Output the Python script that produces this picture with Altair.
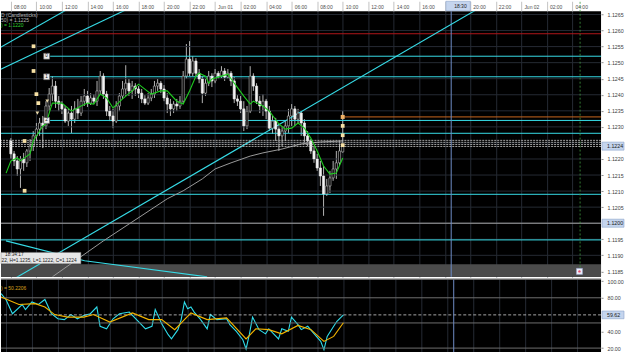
import altair as alt
import pandas as pd

FONT = "Liberation Sans"
CYAN = "#36dbe6"

# ---------------- data (15-minute bars, bar 0 = 2016-05-31 08:00) ----------------
bar_start = "2016-05-31 08:00"
bar_minutes = 15

opens = [1.12256, 1.12216, 1.12194, 1.12169, 1.12200, 1.12188, 1.12225, 1.12240, 1.12272, 1.12293,
         1.12312, 1.12303, 1.12365, 1.12402, 1.12427, 1.12380, 1.12371, 1.12356, 1.12318, 1.12343,
         1.12324, 1.12356, 1.12343, 1.12380, 1.12396, 1.12374, 1.12390, 1.12380, 1.12412, 1.12458,
         1.12402, 1.12349, 1.12334, 1.12318, 1.12365, 1.12396, 1.12418, 1.12436, 1.12412, 1.12427,
         1.12418, 1.12405, 1.12387, 1.12374, 1.12390, 1.12402, 1.12427, 1.12436, 1.12418, 1.12390,
         1.12371, 1.12356, 1.12371, 1.12365, 1.12380, 1.12458, 1.12511, 1.12467, 1.12505, 1.12467,
         1.12449, 1.12405, 1.12436, 1.12458, 1.12443, 1.12467, 1.12458, 1.12474, 1.12455, 1.12467,
         1.12443, 1.12387, 1.12380, 1.12356, 1.12303, 1.12349, 1.12458, 1.12427, 1.12380, 1.12365,
         1.12380, 1.12349, 1.12296, 1.12318, 1.12293, 1.12272, 1.12287, 1.12303, 1.12334, 1.12356,
         1.12324, 1.12343, 1.12312, 1.12272, 1.12256, 1.12225, 1.12200, 1.12172, 1.12147, 1.12091,
         1.12116, 1.12141, 1.12169, 1.12188, 1.12222]
highs = [1.12265, 1.12225, 1.12209, 1.12209, 1.12219, 1.12231, 1.12262, 1.12287, 1.12312, 1.12328,
         1.12334, 1.12380, 1.12421, 1.12458, 1.12443, 1.12396, 1.12380, 1.12365, 1.12356, 1.12365,
         1.12380, 1.12387, 1.12396, 1.12418, 1.12412, 1.12405, 1.12402, 1.12443, 1.12474, 1.12467,
         1.12412, 1.12365, 1.12356, 1.12380, 1.12405, 1.12443, 1.12492, 1.12449, 1.12443, 1.12436,
         1.12427, 1.12418, 1.12399, 1.12405, 1.12418, 1.12443, 1.12449, 1.12443, 1.12430, 1.12405,
         1.12387, 1.12380, 1.12387, 1.12396, 1.12474, 1.12558, 1.12567, 1.12520, 1.12514, 1.12480,
         1.12458, 1.12449, 1.12474, 1.12467, 1.12480, 1.12474, 1.12489, 1.12483, 1.12480, 1.12474,
         1.12455, 1.12399, 1.12396, 1.12380, 1.12365, 1.12489, 1.12467, 1.12436, 1.12396, 1.12402,
         1.12387, 1.12365, 1.12334, 1.12328, 1.12309, 1.12303, 1.12318, 1.12356, 1.12371, 1.12365,
         1.12356, 1.12349, 1.12324, 1.12287, 1.12262, 1.12240, 1.12216, 1.12194, 1.12178, 1.12138,
         1.12163, 1.12194, 1.12225, 1.12256, 1.12350]
lows = [1.12200, 1.12178, 1.12147, 1.12110, 1.12163, 1.12175, 1.12194, 1.12225, 1.12256, 1.12272,
        1.12234, 1.12293, 1.12349, 1.12380, 1.12359, 1.12349, 1.12340, 1.12312, 1.12303, 1.12281,
        1.12312, 1.12324, 1.12334, 1.12365, 1.12362, 1.12368, 1.12371, 1.12365, 1.12402, 1.12387,
        1.12334, 1.12318, 1.12296, 1.12312, 1.12349, 1.12387, 1.12396, 1.12396, 1.12387, 1.12396,
        1.12390, 1.12374, 1.12368, 1.12368, 1.12380, 1.12390, 1.12412, 1.12405, 1.12380, 1.12343,
        1.12334, 1.12343, 1.12349, 1.12356, 1.12371, 1.12449, 1.12458, 1.12458, 1.12458, 1.12436,
        1.12374, 1.12396, 1.12427, 1.12424, 1.12436, 1.12449, 1.12452, 1.12443, 1.12449, 1.12427,
        1.12374, 1.12365, 1.12343, 1.12287, 1.12293, 1.12343, 1.12412, 1.12371, 1.12343, 1.12334,
        1.12324, 1.12287, 1.12278, 1.12256, 1.12225, 1.12240, 1.12256, 1.12281, 1.12303, 1.12303,
        1.12312, 1.12272, 1.12247, 1.12240, 1.12216, 1.12188, 1.12163, 1.12116, 1.12023, 1.12085,
        1.12094, 1.12132, 1.12138, 1.12178, 1.12220]
closes = [1.12216, 1.12194, 1.12169, 1.12200, 1.12188, 1.12225, 1.12240, 1.12272, 1.12293, 1.12312,
          1.12303, 1.12365, 1.12402, 1.12427, 1.12380, 1.12371, 1.12356, 1.12318, 1.12343, 1.12324,
          1.12356, 1.12343, 1.12380, 1.12396, 1.12374, 1.12390, 1.12380, 1.12412, 1.12458, 1.12402,
          1.12349, 1.12334, 1.12318, 1.12365, 1.12396, 1.12418, 1.12436, 1.12412, 1.12427, 1.12418,
          1.12405, 1.12387, 1.12374, 1.12390, 1.12402, 1.12427, 1.12436, 1.12418, 1.12390, 1.12371,
          1.12356, 1.12371, 1.12365, 1.12380, 1.12458, 1.12511, 1.12467, 1.12505, 1.12467, 1.12449,
          1.12405, 1.12436, 1.12458, 1.12443, 1.12467, 1.12458, 1.12474, 1.12455, 1.12467, 1.12443,
          1.12387, 1.12380, 1.12356, 1.12303, 1.12349, 1.12458, 1.12427, 1.12380, 1.12365, 1.12380,
          1.12349, 1.12296, 1.12318, 1.12293, 1.12272, 1.12287, 1.12303, 1.12334, 1.12356, 1.12324,
          1.12343, 1.12312, 1.12272, 1.12256, 1.12225, 1.12200, 1.12172, 1.12147, 1.12091, 1.12116,
          1.12141, 1.12169, 1.12188, 1.12225, 1.12240]

# fast moving average (green), read at bar positions
ma_idx = [-1.5, 0, 2, 3, 5, 6, 7, 9, 10, 11, 12, 13, 16, 19, 22, 24, 26, 28, 30, 32, 35,
          38, 40, 44, 47, 49, 52, 54, 56, 58, 59, 61, 62, 63, 66, 68, 70, 73, 75, 76, 79,
          81, 84, 86, 88, 90, 92, 94, 96, 98, 100, 102, 104]
ma_val = [1.12156, 1.12194, 1.12203, 1.12194, 1.12209, 1.12216, 1.12256, 1.12287, 1.12303, 1.12309,
          1.12343, 1.12374, 1.12374, 1.12349, 1.12365, 1.12374, 1.12371, 1.12402, 1.12390, 1.12359,
          1.12387, 1.12412, 1.12433, 1.12402, 1.12412, 1.12412, 1.12380, 1.12371, 1.12412, 1.12458,
          1.12467, 1.12458, 1.12436, 1.12449, 1.12458, 1.12464, 1.12436, 1.12396, 1.12371, 1.12380,
          1.12365, 1.12349, 1.12309, 1.12293, 1.12296, 1.12312, 1.12296, 1.12265, 1.12225, 1.12178,
          1.12153, 1.12156, 1.12203]
# slow moving average (gray)
slow_idx = [13, 29, 49, 54, 60, 64, 69, 75, 79, 85, 91, 97, 104]
slow_val = [1.11833, 1.11945, 1.12076, 1.12101, 1.12138, 1.12169, 1.12188, 1.12209, 1.12219,
            1.12231, 1.12247, 1.12253, 1.12256]

# trend lines (two points each, D has three)
trend_id = ["A", "A", "B", "B", "C", "C", "D", "D", "D"]
trend_idx = [-4.6, 20, -4.6, 38.5, -1.54, 149.2, -1.54, 23.1, 61.5]
trend_price = [1.12540, 1.12679, 1.12473, 1.12676, 1.11812, 1.12684, 1.11945, 1.11883, 1.11833]

# horizontal levels
red_level = 1.12590
cyan_levels = [1.12280, 1.12090, 1.11948]
fib_levels = [1.12520, 1.12456, 1.12320]
fib_labels = ["0", "1", "2"]
fib_start_idx = 12.3
fib_label_idx = 11.2
dashed_levels = [1.12258, 1.12252, 1.12245, 1.12239]
gray_level = 1.12000
orange_level = 1.12331
orange_start_idx = 104.5
band_top, band_bottom = 1.11872, 1.11800

# small chart objects
sq_idx = [7.1, 7.1, 8.0, 8.6, 4.3, 4.3, 104, 104, 104]
sq_price = [1.12551, 1.12474, 1.12402, 1.12374, 1.12256, 1.12101, 1.12303, 1.12274, 1.12243]
orange_sq_idx, orange_sq_price = [104], [1.12331]
tri_idx = [8.3, 11.4]
tri_price = [1.12343, 1.12380]
icon_idx, icon_price = [178.2], [1.11850]
vline_idx = 178.4  # dashed green vertical marker

# oscillator panel
osc_idx = [-1.5, 0, 2, 5, 6, 8, 10, 12, 14, 16, 18, 20, 22, 24, 26, 28, 29, 31, 33, 35,
           38, 41, 43, 45, 46, 48, 50, 51, 53, 54, 55, 56, 57, 58, 60, 62, 63, 65, 68, 69,
           71, 73, 74, 75, 76, 78, 80, 81, 84, 85, 87, 88, 90, 91, 93, 95, 97, 98, 99, 101,
           102, 104]
osc_val = [85, 78, 61, 72, 66, 75, 72, 78, 61, 55, 54, 60, 55, 59, 61, 69, 46, 43, 55, 61,
           63, 51, 43, 46, 66, 49, 36, 31, 42, 54, 75, 67, 69, 63, 54, 43, 60, 54, 55, 48,
           40, 30, 19, 36, 57, 42, 37, 43, 31, 43, 40, 57, 48, 42, 46, 37, 28, 18, 34, 46,
           52, 59.62]
sig_idx = [-1.5, 4, 9, 12, 15, 19, 24, 27, 32, 39, 44, 48, 52, 57, 62, 68, 74, 77, 81, 85,
           90, 94, 98, 101, 104]
sig_val = [81, 72, 73, 69, 60, 57, 57, 60, 51, 62, 54, 54, 42, 62, 54, 56, 31, 43, 42, 37,
           47, 42, 28, 34, 50.22]
osc_levels = [80, 50, 20]
osc_dash_level = 59.62

# axis labels (levels hidden behind the highlighted boxes are left out)
price_ticks = [1.1185, 1.1190, 1.1195, 1.1205, 1.1210, 1.1215, 1.1220,
               1.1230, 1.1235, 1.1240, 1.1245, 1.1250, 1.1255, 1.1260, 1.1265]
price_grid = [1.1185, 1.1190, 1.1195, 1.1200, 1.1205, 1.1210, 1.1215, 1.1220, 1.1225,
              1.1230, 1.1235, 1.1240, 1.1245, 1.1250, 1.1255, 1.1260, 1.1265]
osc_ticks = [20, 40, 80, 100]
price_marks = [1.1224, 1.1200]
osc_marks = [59.62]
cursor_time = "2016-06-01 18:30"

legend_lines = ["D (Candlesticks)", "50) = 1.1225", ") = 1.1220"]
osc_legend = ") = 50.2206"
tip_lines = ["18:34:17", "22, H=1.1235, L=1.1222, C=1.1224"]

# ---------------- helpers ----------------
base = pd.Timestamp(bar_start)


def t_of(idx):
    return base + pd.Timedelta(minutes=bar_minutes * idx)


W, H_MAIN, H_OSC = 601, 266, 74

x_dom = [alt.DateTime(year=2016, month=5, date=31, hours=7, minutes=37),
         alt.DateTime(year=2016, month=6, date=2, hours=5, minutes=51)]
tick_times = [pd.Timestamp("2016-05-31 08:00") + pd.Timedelta(hours=2 * k) for k in range(23)]
tick_vals = [alt.DateTime(year=t.year, month=t.month, date=t.day, hours=t.hour) for t in tick_times]

GRID = "#252a33"
xscale = alt.Scale(domain=x_dom)
xaxis = alt.Axis(orient="top", values=tick_vals, title=None, domain=False,
                 labelExpr="(date(datum.value)==1 && hours(datum.value)==18) ? '' : "
                           "(hours(datum.value)==0 ? timeFormat(datum.value, '%b %d') : "
                           "timeFormat(datum.value, '%H:%M'))",
                 tickSize=10, tickColor="#b4b4b4", tickWidth=0.8,
                 labelAlign="left", labelBaseline="middle", labelPadding=-5, labelOffset=2.5,
                 labelFontSize=5, labelColor="#505050", labelFont=FONT,
                 labelOverlap=False, labelFlush=False,
                 grid=True, gridColor=GRID, gridWidth=1)
xaxis_osc = alt.Axis(values=tick_vals, title=None, domain=False, labels=False, ticks=False,
                     grid=True, gridColor=GRID, gridWidth=1)

yscale = alt.Scale(domain=[1.11833, 1.12660], zero=False, nice=False)
yaxis = alt.Axis(orient="right", values=price_ticks, format=".4f", title=None, domain=False,
                 tickSize=2, tickColor="#909090", labelPadding=4, labelFontSize=5.3,
                 labelColor="#404040", labelFont=FONT, labelOverlap=False, labelFlush=False,
                 grid=False)
oscale = alt.Scale(domain=[14.5, 102.6], zero=False, nice=False)
oaxis = alt.Axis(orient="right", values=osc_ticks, format=".2f", title=None, domain=False,
                 tickSize=2, tickColor="#909090", labelPadding=4, labelFontSize=5.3,
                 labelColor="#404040", labelFont=FONT, labelOverlap=False, labelFlush=False,
                 grid=False)


def X(field="t"):
    return alt.X(f"{field}:T", scale=xscale, axis=xaxis)


def Y(field="p"):
    return alt.Y(f"{field}:Q", scale=yscale, axis=yaxis)


def XO(field="t"):
    return alt.X(f"{field}:T", scale=xscale, axis=xaxis_osc)


def YO(field="v"):
    return alt.Y(f"{field}:Q", scale=oscale, axis=oaxis)


candles = pd.DataFrame({"t": [t_of(i) for i in range(len(opens))],
                        "o": opens, "h": highs, "l": lows, "c": closes})
end_time = t_of(200)

# ---------------- main panel ----------------
hgrid = alt.Chart(pd.DataFrame({"p": price_grid})).mark_rule(
    color=GRID, strokeWidth=1).encode(y=Y())
band = alt.Chart(pd.DataFrame({"hi": [band_top], "lo": [band_bottom]})).mark_rect(
    color="#4b4b4b", clip=True).encode(x=alt.value(0), x2=alt.value(W), y=Y("hi"), y2="lo:Q")

red = alt.Chart(pd.DataFrame({"p": [red_level]})).mark_rule(
    color="#b0161a", strokeWidth=1).encode(y=Y())
gray = alt.Chart(pd.DataFrame({"p": [gray_level]})).mark_rule(
    color="#a4a4a4", strokeWidth=1).encode(y=Y())
cyan_full = alt.Chart(pd.DataFrame({"p": cyan_levels})).mark_rule(
    color=CYAN, strokeWidth=1).encode(y=Y())
dashed = alt.Chart(pd.DataFrame({"p": dashed_levels})).mark_rule(
    color="#c8c8c8", strokeWidth=0.8, strokeDash=[2, 1]).encode(y=Y())
fib = alt.Chart(pd.DataFrame({"t": [t_of(fib_start_idx)] * 3, "t2": [end_time] * 3,
                              "p": fib_levels})).mark_rule(
    color=CYAN, strokeWidth=1, clip=True).encode(x=X(), x2="t2:T", y=Y())
orange = alt.Chart(pd.DataFrame({"t": [t_of(orange_start_idx)], "t2": [end_time],
                                 "p": [orange_level]})).mark_rule(
    color="#c8661e", strokeWidth=1, clip=True).encode(x=X(), x2="t2:T", y=Y())

trend = alt.Chart(pd.DataFrame({"id": trend_id, "t": [t_of(i) for i in trend_idx],
                                "p": trend_price})).mark_line(
    color=CYAN, strokeWidth=1.1, clip=True).encode(x=X(), y=Y(), detail="id:N")
slow = alt.Chart(pd.DataFrame({"t": [t_of(i) for i in slow_idx], "p": slow_val})).mark_line(
    color="#9a9a9a", strokeWidth=1, clip=True).encode(x=X(), y=Y())

cursor_df = pd.DataFrame({"t": [pd.Timestamp(cursor_time)]})
cursor = alt.Chart(cursor_df).mark_rule(color="#6d8cc6", strokeWidth=1).encode(x=X())
green_v = alt.Chart(pd.DataFrame({"t": [t_of(vline_idx)], "p": [icon_price[0]]})).mark_rule(
    color="#3f9a3f", strokeWidth=0.8, strokeDash=[2, 2]).encode(
    x=X(), y=Y(), y2=alt.value(-10))

wicks = alt.Chart(candles).mark_rule(color="#b4b4b4", strokeWidth=1).encode(
    x=X(), y=Y("l"), y2="h:Q")
bodies = alt.Chart(candles).mark_bar(size=2.2, strokeWidth=0.6).encode(
    x=X(), y=Y("o"), y2="c:Q",
    fill=alt.condition("datum.c > datum.o", alt.value("#000000"), alt.value("#f2f2f2")),
    stroke=alt.condition("datum.c > datum.o", alt.value("#bdbdbd"), alt.value("#f2f2f2")))

ma = alt.Chart(pd.DataFrame({"t": [t_of(i) for i in ma_idx], "p": ma_val})).mark_line(
    color="#1fcc1f", strokeWidth=1.1, clip=True).encode(x=X(), y=Y())

squares = alt.Chart(pd.DataFrame({"t": [t_of(i) for i in sq_idx], "p": sq_price})).mark_point(
    shape="square", filled=True, size=14, color="#f6e0a4", opacity=1).encode(x=X(), y=Y())
orange_sq = alt.Chart(pd.DataFrame({"t": [t_of(i) for i in orange_sq_idx],
                                    "p": orange_sq_price})).mark_point(
    shape="square", filled=True, size=16, color="#f2b266", opacity=1).encode(x=X(), y=Y())
tris = alt.Chart(pd.DataFrame({"t": [t_of(i) for i in tri_idx], "p": tri_price})).mark_point(
    shape="triangle-down", filled=True, size=14, color="#e8d8a8", opacity=1).encode(x=X(), y=Y())
icon_df = pd.DataFrame({"t": [t_of(i) for i in icon_idx], "p": icon_price})
icon = alt.Chart(icon_df).mark_point(
    shape="square", filled=True, size=36, color="#eef0fa", stroke="#9aa6d0", strokeWidth=0.6,
    opacity=1).encode(x=X(), y=Y())
icon_dot = alt.Chart(icon_df).mark_point(
    shape="circle", filled=True, size=6, color="#e0506e", opacity=1).encode(x=X(), y=Y())

fib_lab_df = pd.DataFrame({"t": [t_of(fib_label_idx)] * 3, "p": fib_levels, "s": fib_labels})
fib_box = alt.Chart(fib_lab_df).mark_point(
    shape="square", filled=True, size=34, color="#eeeeee", stroke="#707070", strokeWidth=0.6,
    opacity=1).encode(x=X(), y=Y())
fib_txt = alt.Chart(fib_lab_df).mark_text(
    fontSize=4.5, font=FONT, color="#111111", align="center", baseline="middle").encode(
    x=X(), y=Y(), text="s:N")

# highlighted price labels on the right axis
pm = pd.DataFrame({"p": price_marks, "s": [f"{v:.4f}" for v in price_marks]})
pm_box = alt.Chart(pm).transform_calculate(
    hi="datum.p + 0.000125", lo="datum.p - 0.000125").mark_rect(
    fill="#c5d5ee", stroke="#8ba2c9", strokeWidth=0.6).encode(
    x=alt.value(W + 1), x2=alt.value(W + 23), y=Y("hi"), y2="lo:Q")
pm_txt = alt.Chart(pm).mark_text(fontSize=5.3, font=FONT, color="#1a1a1a", align="left",
                                 baseline="middle").encode(
    x=alt.value(W + 6), y=Y(), text="s:N")

# highlighted time label in the top strip
cur_box = alt.Chart(pd.DataFrame({"t": [pd.Timestamp("2016-06-01 18:05")],
                                  "t2": [pd.Timestamp("2016-06-01 20:00")]})).mark_rect(
    fill="#c5d5ee", stroke="#8ba2c9", strokeWidth=0.6).encode(
    x=X(), x2="t2:T", y=alt.value(-10), y2=alt.value(-0.5))
cur_txt = alt.Chart(pd.DataFrame({"t": [pd.Timestamp(cursor_time)], "s": ["18:30"]})).mark_text(
    fontSize=5, font=FONT, color="#1a1a1a", align="left", baseline="middle", dx=3).encode(
    x=X(), y=alt.value(-5), text="s:N")

# top-left legend
leg_colors = ["#b4b4b4", "#b4b4b4", "#2ccf2c"]
leg_layers = []
for k, (s, col) in enumerate(zip(legend_lines, leg_colors)):
    leg_layers.append(alt.Chart(pd.DataFrame({"s": [s]})).mark_text(
        fontSize=5, font=FONT, color=col, align="left", baseline="middle").encode(
        x=alt.value(0), y=alt.value(4 + 5 * k), text="s:N"))

# crosshair data window
tip_bg = alt.Chart(pd.DataFrame({"k": [0]})).mark_rect(
    fill="#e6e6e6", stroke="#8a8a8a", strokeWidth=0.5).encode(
    x=alt.value(0), x2=alt.value(80),
    y=alt.value(241.5), y2=alt.value(253))
tip_layers = []
for k, s in enumerate(tip_lines):
    tip_layers.append(alt.Chart(pd.DataFrame({"s": [s]})).mark_text(
        fontSize=4.8, font=FONT, color="#1a1a1a", align="left", baseline="middle").encode(
        x=alt.value(4 if k == 0 else 0.5), y=alt.value(244.2 + 5.8 * k), text="s:N"))

main = alt.layer(
    wicks, hgrid, band, red, gray, cyan_full, fib, orange, cursor, green_v, trend, slow,
    bodies, dashed, ma, squares, orange_sq, tris, icon, icon_dot, fib_box, fib_txt,
    *leg_layers, tip_bg, *tip_layers, pm_box, pm_txt, cur_box, cur_txt
).properties(width=W, height=H_MAIN)

# ---------------- oscillator panel ----------------
osc_df = pd.DataFrame({"t": [t_of(i) for i in osc_idx], "v": osc_val})
sig_df = pd.DataFrame({"t": [t_of(i) for i in sig_idx], "v": sig_val})

o_fast = alt.Chart(osc_df).mark_line(color="#2fdcea", strokeWidth=1.1, clip=True).encode(
    x=XO(), y=YO())
o_levels = alt.Chart(pd.DataFrame({"v": osc_levels})).mark_rule(
    color="#6e6e6e", strokeWidth=1).encode(y=YO())
o_dash = alt.Chart(pd.DataFrame({"v": [osc_dash_level]})).mark_rule(
    color="#cfcfcf", strokeWidth=0.8, strokeDash=[3, 2]).encode(y=YO())
o_cursor = alt.Chart(cursor_df).mark_rule(color="#6d8cc6", strokeWidth=1).encode(x=XO())
o_top = alt.Chart(pd.DataFrame({"k": [0]})).mark_rule(color="#7a7a7a", strokeWidth=1).encode(
    x=alt.value(0), x2=alt.value(W), y=alt.value(0.5))
o_slow = alt.Chart(sig_df).mark_line(color="#f2b400", strokeWidth=1.1, clip=True).encode(
    x=XO(), y=YO())
om = pd.DataFrame({"v": osc_marks, "s": [f"{v:.2f}" for v in osc_marks]})
om_box = alt.Chart(om).transform_calculate(hi="datum.v + 4.6", lo="datum.v - 4.6").mark_rect(
    fill="#c5d5ee", stroke="#8ba2c9", strokeWidth=0.6).encode(
    x=alt.value(W + 1), x2=alt.value(W + 23), y=YO("hi"), y2="lo:Q")
om_txt = alt.Chart(om).mark_text(fontSize=5.3, font=FONT, color="#1a1a1a", align="left",
                                 baseline="middle").encode(
    x=alt.value(W + 6), y=YO(), text="s:N")
o_leg = alt.Chart(pd.DataFrame({"s": [osc_legend]})).mark_text(
    fontSize=5, font=FONT, color="#d6a11e", align="left", baseline="middle").encode(
    x=alt.value(0), y=alt.value(9), text="s:N")

osc = alt.layer(
    o_fast, o_levels, o_dash, o_cursor, o_top, o_slow, om_box, om_txt, o_leg
).properties(width=W, height=H_OSC)

chart = alt.vconcat(main, osc, spacing=0).properties(
    padding=0, background="#ffffff"
).configure_view(fill="#000000", stroke=None)

chart.save("out.html", embed_options={"renderer": "svg", "actions": False})
